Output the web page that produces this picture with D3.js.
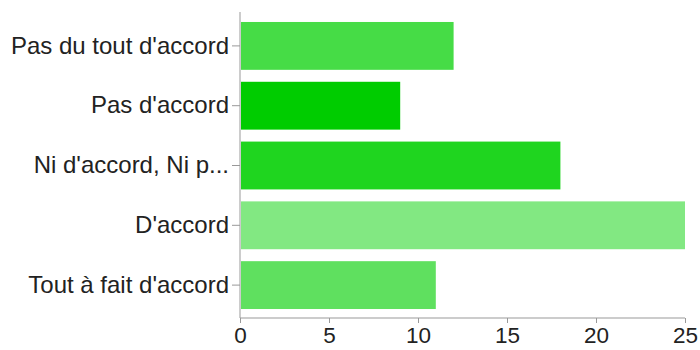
<!DOCTYPE html>
<html><head><meta charset="utf-8">
<script src="https://cdn.jsdelivr.net/npm/d3@7"></script>
<style>body{margin:0;background:#fff}</style>
</head><body>
<svg id="c" width="700" height="350"></svg>
<script>
const categories = ["Pas du tout d'accord","Pas d'accord","Ni d'accord, Ni p...","D'accord","Tout à fait d'accord"];
const values = [12, 9, 18, 25, 11];
const colors = ["#46dc46","#00cc00","#1fd51f","#82e882","#5fe05f"];
const xTicks = [0,5,10,15,20,25];

const svg = d3.select("#c");
const mLeft = 240, mRight = 685, mTop = 15, mBottom = 318;
const x = d3.scaleLinear().domain([0,25]).range([mLeft,mRight]);
const y = d3.scaleBand().domain(categories).range([mTop+1, mBottom-3]).paddingInner(0.2).paddingOuter(0.1);

svg.selectAll("rect.bar").data(categories).join("rect")
  .attr("class","bar")
  .attr("x", x(0)+1)
  .attr("y", d=>y(d))
  .attr("width", (d,i)=>x(values[i])-x(0)-1)
  .attr("height", y.bandwidth())
  .attr("fill",(d,i)=>colors[i]);

const gy = svg.append("g").attr("transform",`translate(${mLeft},0)`)
  .call(d3.axisLeft(y).tickSize(8).tickPadding(3));
gy.select(".domain").attr("d",`M0,${mTop-3}V${mBottom}`);
const gx = svg.append("g").attr("transform",`translate(0,${mBottom})`)
  .call(d3.axisBottom(x).tickValues(xTicks).tickSize(5).tickPadding(4).tickFormat(d3.format("d")));
gx.select(".domain").attr("d",`M${mLeft},0H${mRight}`);

svg.selectAll(".domain, .tick line").attr("stroke","#999").attr("stroke-width",1);
svg.selectAll(".tick text").attr("fill","#222").style("font-family","'Liberation Sans', Arial, sans-serif").style("font-size","22.5px");
gy.selectAll(".tick text").style("font-size","24px");
</script>
</body></html>
